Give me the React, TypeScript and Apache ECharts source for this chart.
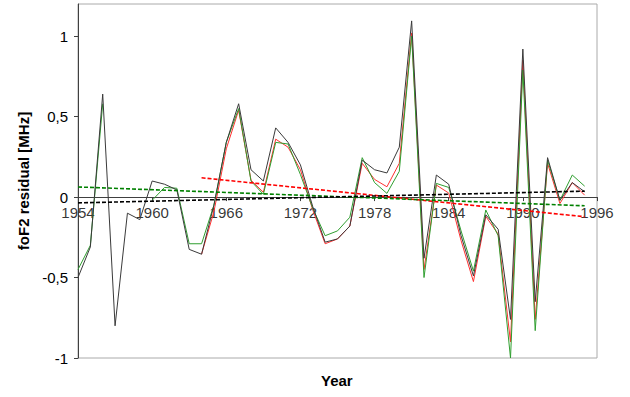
import React, { useEffect, useRef } from "react";
import * as echarts from "echarts";

const years = [1954, 1955, 1956, 1957, 1958, 1959, 1960, 1961, 1962, 1963, 1964, 1965, 1966, 1967, 1968, 1969, 1970, 1971, 1972, 1973, 1974, 1975, 1976, 1977, 1978, 1979, 1980, 1981, 1982, 1983, 1984, 1985, 1986, 1987, 1988, 1989, 1990, 1991, 1992, 1993, 1994, 1995];

const blackValues = [-0.5, -0.31, 0.64, -0.8, -0.1, -0.14, 0.1, 0.08, 0.045, -0.325, -0.355, -0.05, 0.34, 0.58, 0.17, 0.1, 0.43, 0.34, 0.2, -0.06, -0.28, -0.26, -0.18, 0.23, 0.17, 0.15, 0.31, 1.095, -0.38, 0.137, 0.08, -0.24, -0.49, -0.11, -0.2, -0.76, 0.92, -0.65, 0.245, -0.02, 0.09, 0.033];

const greenValues = [-0.45, -0.3, 0.58, null, null, null, -0.02, 0.06, 0.055, -0.29, -0.29, -0.05, 0.34, 0.55, 0.1, 0.017, 0.34, 0.33, 0.14, -0.07, -0.24, -0.21, -0.125, 0.245, 0.09, 0.023, 0.16, 1.0, -0.5, 0.085, 0.06, -0.21, -0.46, -0.08, -0.24, -1.0, 0.79, -0.83, 0.23, -0.02, 0.137, 0.068];

const redValues = [null, null, null, null, null, null, null, null, null, null, -0.355, -0.09, 0.3, 0.54, 0.105, 0.03, 0.36, 0.31, 0.17, -0.08, -0.29, -0.26, -0.18, 0.21, 0.11, 0.064, 0.21, 1.02, -0.45, 0.075, 0.025, -0.27, -0.525, -0.12, -0.23, -0.9, 0.85, -0.76, 0.21, -0.04, 0.09, 0.012];

const redTrend = [[1964, 0.12], [1995, -0.122]];
const greenTrend = [[1954, 0.063], [1995, -0.054]];
const blackTrend = [[1954, -0.036], [1995, 0.037]];

const xTicks = [1954, 1960, 1966, 1972, 1978, 1984, 1990, 1996];
const yTicks = [-1, -0.5, 0, 0.5, 1];

const FONT = "'Liberation Sans', Arial, sans-serif";

function pairs(vals: (number | null)[]) {
  return years.map((y, i) => [y, vals[i]]);
}

export default function App() {
  const ref = useRef<HTMLDivElement>(null);
  useEffect(() => {
    if (!ref.current) return;
    const chart = echarts.init(ref.current, null, { renderer: "svg" });
    const lineSeries = (name: string, vals: (number | null)[], color: string, z: number) => ({
      name,
      type: "line",
      data: pairs(vals),
      showSymbol: false,
      symbol: "none",
      connectNulls: false,
      lineStyle: { color, width: 1 },
      z,
    });
    const trendSeries = (name: string, data: number[][], color: string, z: number) => ({
      name,
      type: "line",
      data,
      showSymbol: false,
      symbol: "none",
      lineStyle: { color, width: 1.6, type: [4, 2] },
      z,
    });
    chart.setOption({
      animation: false,
      textStyle: { fontFamily: FONT },
      grid: {
        left: 78,
        right: 33,
        top: 4,
        bottom: 39,
        show: true,
        borderColor: "#aaaaaa",
        borderWidth: 1,
        backgroundColor: "transparent",
      },
      xAxis: {
        type: "value",
        min: 1954,
        max: 1996,
        interval: 6,
        axisLine: { onZero: true, lineStyle: { color: "#404040", width: 1 } },
        axisTick: { show: true, length: 4, lineStyle: { color: "#404040" }, customValues: xTicks },
        axisLabel: { show: false },
        splitLine: { show: false },
      },
      yAxis: {
        type: "value",
        min: -1,
        max: 1.2,
        interval: 0.5,
        name: "foF2 residual [MHz]",
        nameLocation: "middle",
        nameGap: 45,
        nameRotate: 90,
        nameTextStyle: { fontSize: 15, fontWeight: "bold", color: "#000", fontFamily: FONT },
        axisLine: { show: true, onZero: false, lineStyle: { color: "#404040", width: 1 } },
        axisTick: { show: true, length: 4, lineStyle: { color: "#404040" }, customValues: yTicks },
        axisLabel: {
          color: "#000",
          fontSize: 15,
          fontFamily: FONT,
          margin: 10,
          customValues: yTicks,
          formatter: (v: number) => String(v).replace(".", ","),
        },
        splitLine: { show: false },
      },
      graphic: [
        {
          type: "text",
          left: 321,
          top: 373,
          style: { text: "Year", font: `bold 15px ${FONT}`, fill: "#000" },
        },
      ],
      series: [
        lineSeries("red", redValues, "#ff3030", 3),
        lineSeries("green", greenValues, "#2f9e2f", 4),
        lineSeries("black", blackValues, "#3a3a3a", 5),
        trendSeries("redTrend", redTrend, "#ff0000", 6),
        trendSeries("greenTrend", greenTrend, "#008000", 6),
        trendSeries("blackTrend", blackTrend, "#000000", 6),
        {
          name: "xLabels",
          type: "scatter",
          data: xTicks.map((y) => [y, 0]),
          symbolSize: 0,
          clip: false,
          silent: true,
          label: {
            show: true,
            position: "bottom",
            distance: 8,
            color: "#000",
            fontSize: 15,
            fontFamily: FONT,
            formatter: (p: any) => String(p.value[0]),
          },
          z: 2,
        },
      ],
    });
    return () => chart.dispose();
  }, []);
  return <div ref={ref} style={{ width: 630, height: 397, position: "absolute", left: 0, top: 0 }} />;
}
